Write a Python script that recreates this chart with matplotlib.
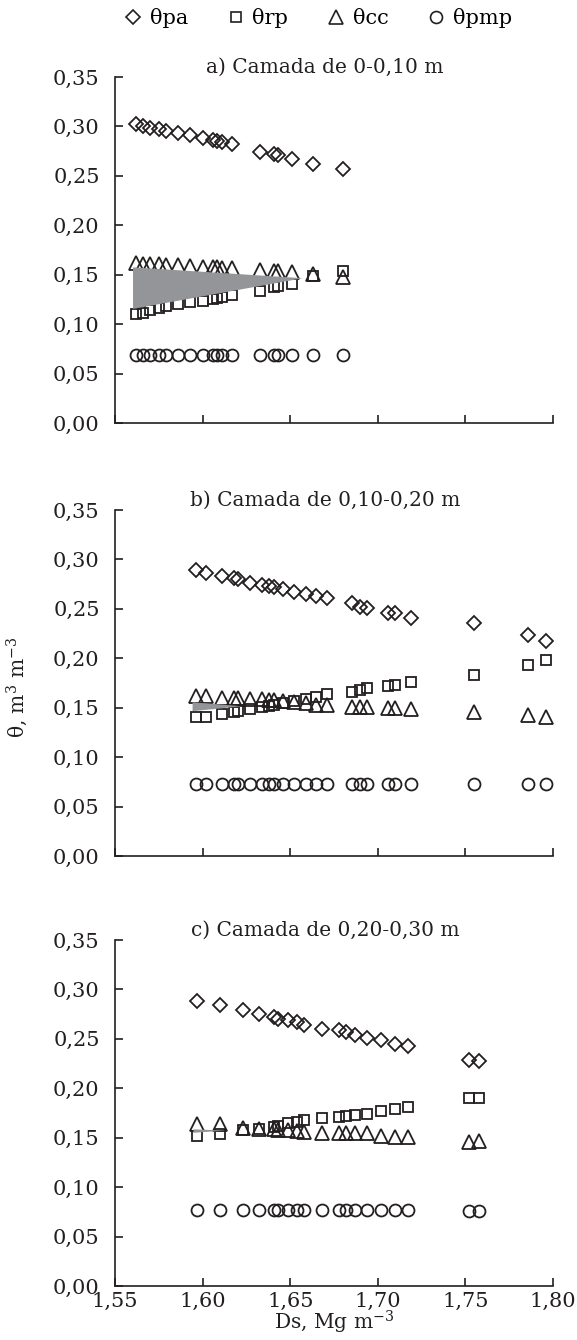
import matplotlib as mpl
mpl.use('Agg')
import matplotlib.pyplot as plt
from matplotlib.ticker import FuncFormatter, MultipleLocator
from matplotlib.lines import Line2D

plt.rcParams['font.family'] = ['DejaVu Serif']
plt.rcParams['mathtext.fontset'] = 'dejavuserif'
plt.rcParams['font.size'] = 14

ink = '#231f20'
shade = '#939598'

# a) 0-0,10 m
ds_a = [1.562, 1.566, 1.570, 1.575, 1.579, 1.586, 1.593, 1.600, 1.606, 1.608, 1.611, 1.617,
        1.633, 1.641, 1.643, 1.651, 1.663, 1.680]
pa_a = [0.302, 0.300, 0.298, 0.297, 0.295, 0.293, 0.291, 0.288, 0.286, 0.285, 0.284, 0.282,
        0.274, 0.272, 0.271, 0.267, 0.262, 0.257]
rp_a = [0.110, 0.111, 0.114, 0.116, 0.118, 0.120, 0.122, 0.123, 0.125, 0.126, 0.128, 0.130,
        0.134, 0.138, 0.139, 0.141, 0.149, 0.154]
cc_a = [0.162, 0.161, 0.161, 0.161, 0.160, 0.160, 0.159, 0.158, 0.158, 0.158, 0.157, 0.157,
        0.155, 0.154, 0.154, 0.153, 0.151, 0.148]
pmp_a = [0.069] * 18
# shaded interval (between theta rp and theta cc)
iho_ds_a = [1.560, 1.657]
iho_top_a = [0.158, 0.147]
iho_bot_a = [0.116, 0.147]

# b) 0,10-0,20 m
ds_b = [1.596, 1.602, 1.611, 1.618, 1.620, 1.627, 1.634, 1.638, 1.641, 1.646, 1.652, 1.659,
        1.665, 1.671, 1.685, 1.690, 1.694, 1.706, 1.710, 1.719, 1.755, 1.786, 1.796]
pa_b = [0.289, 0.286, 0.283, 0.281, 0.280, 0.276, 0.274, 0.273, 0.272, 0.270, 0.267, 0.265,
        0.263, 0.261, 0.256, 0.252, 0.251, 0.246, 0.246, 0.241, 0.236, 0.224, 0.217]
rp_b = [0.141, 0.141, 0.144, 0.146, 0.147, 0.149, 0.151, 0.152, 0.153, 0.155, 0.157, 0.159,
        0.161, 0.164, 0.166, 0.168, 0.170, 0.172, 0.173, 0.176, 0.183, 0.193, 0.198]
cc_b = [0.162, 0.162, 0.160, 0.160, 0.160, 0.159, 0.159, 0.158, 0.158, 0.157, 0.156, 0.155,
        0.153, 0.153, 0.151, 0.151, 0.151, 0.150, 0.150, 0.149, 0.146, 0.143, 0.141]
pmp_b = [0.073] * 23
iho_ds_b = [1.594, 1.622]
iho_top_b = [0.156, 0.152]
iho_bot_b = [0.147, 0.152]

# c) 0,20-0,30 m
ds_c = [1.597, 1.610, 1.623, 1.632, 1.641, 1.643, 1.649, 1.654, 1.658, 1.668, 1.678, 1.682,
        1.687, 1.694, 1.702, 1.710, 1.717, 1.752, 1.758]
pa_c = [0.288, 0.284, 0.279, 0.275, 0.272, 0.270, 0.269, 0.267, 0.264, 0.260, 0.259, 0.257,
        0.254, 0.251, 0.249, 0.245, 0.243, 0.229, 0.228]
rp_c = [0.152, 0.154, 0.158, 0.159, 0.161, 0.162, 0.165, 0.166, 0.168, 0.170, 0.171, 0.172,
        0.173, 0.174, 0.177, 0.179, 0.181, 0.190, 0.190]
cc_c = [0.164, 0.164, 0.160, 0.159, 0.159, 0.158, 0.158, 0.157, 0.156, 0.155, 0.155, 0.155,
        0.155, 0.155, 0.152, 0.151, 0.151, 0.146, 0.147]
pmp_c = [0.077] * 17 + [0.076, 0.076]
iho_ds_c = [1.5945, 1.6125]
iho_top_c = [0.159, 0.1577]
iho_bot_c = [0.1555, 0.1577]

titles = ['a) Camada de 0-0,10 m', 'b) Camada de 0,10-0,20 m', 'c) Camada de 0,20-0,30 m']
legend_names = ['θpa', 'θrp', 'θcc', 'θpmp']

panels = [
    (ds_a, pa_a, rp_a, cc_a, pmp_a, iho_ds_a, iho_top_a, iho_bot_a),
    (ds_b, pa_b, rp_b, cc_b, pmp_b, iho_ds_b, iho_top_b, iho_bot_b),
    (ds_c, pa_c, rp_c, cc_c, pmp_c, iho_ds_c, iho_top_c, iho_bot_c),
]

styles = [dict(marker='D', ms=6.7), dict(marker='s', ms=7.6),
          dict(marker='^', ms=9.6), dict(marker='o', ms=8.6)]

comma = FuncFormatter(lambda v, p: f'{v:.2f}'.replace('.', ','))

fig = plt.figure(figsize=(5.77, 13.40), dpi=100)
bottoms = [0.6843, 0.3612, 0.0403]
axes = []
for i, (ds, pa, rp, cc, pmp, fds, ftop, fbot) in enumerate(panels):
    ax = fig.add_axes([0.1993, bottoms[i], 0.7591, 0.2582])
    axes.append(ax)
    for ys, st in zip([pa, rp, cc, pmp], styles):
        ax.plot(ds, ys, ls='none', marker=st['marker'], ms=st['ms'], mfc='none',
                mec=ink, mew=1.3, zorder=2)
    ax.fill_between(fds, fbot, ftop, color=shade, lw=0, zorder=3)
    ax.set_xlim(1.55, 1.80)
    ax.set_ylim(0, 0.35)
    ax.xaxis.set_major_locator(MultipleLocator(0.05))
    ax.yaxis.set_major_locator(MultipleLocator(0.05))
    ax.yaxis.set_major_formatter(comma)
    ax.xaxis.set_major_formatter(comma)
    for s in ['top', 'right']:
        ax.spines[s].set_visible(False)
    for s in ['left', 'bottom']:
        ax.spines[s].set_color(ink)
        ax.spines[s].set_linewidth(1.2)
    ax.tick_params(axis='both', direction='in', length=6, width=1.2, color=ink,
                   labelcolor=ink, labelsize=15)
    ax.tick_params(axis='y', pad=11)
    ax.tick_params(axis='x', pad=4, labelbottom=(i == 2))
    ax.text(0.48, 1.0, titles[i], transform=ax.transAxes, ha='center', va='bottom',
            fontsize=14.5, color=ink)

fig.text(0.5789, 0.0134, 'Ds, Mg m$^{-3}$', ha='center', va='center',
         fontsize=14.5, color=ink)
fig.text(0.03, 0.487, 'θ, m$^{3}$ m$^{-3}$', rotation=90, ha='center', va='center',
         fontsize=14.5, color=ink)

handles = [Line2D([], [], ls='none', marker=st['marker'], ms=st['ms'], mfc='none',
                  mec=ink, mew=1.2) for st in styles]
fig.legend(handles, legend_names, loc='center', bbox_to_anchor=(0.55, 0.9866), ncol=4,
           frameon=False, fontsize=15, handletextpad=0.3, columnspacing=1.8,
           handlelength=1.0)

fig.savefig('out.png', dpi=100)
